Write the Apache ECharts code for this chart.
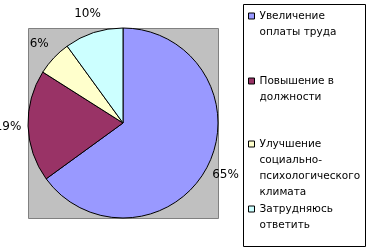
<!DOCTYPE html>
<html><head><meta charset="utf-8">
<script src="https://cdn.jsdelivr.net/npm/echarts@6/dist/echarts.min.js"></script>
<style>html,body{margin:0;padding:0;background:#fff}#c{width:377px;height:252px}</style>
</head><body><div id="c"></div>
<script>
const categories = ['Увеличение оплаты труда', 'Повышение в должности', 'Улучшение социально-психологического климата', 'Затрудняюсь ответить'];
const legendLines = [['Увеличение', 'оплаты труда'], ['Повышение в', 'должности'], ['Улучшение', 'социально-', 'психологического', 'климата'], ['Затрудняюсь', 'ответить']];
const values = [65, 19, 6, 10];
const colors = ['#9999FF', '#993366', '#FFFFCC', '#CCFFFF'];
const legendCenters = [16, 81, 144, 209];

const chart = echarts.init(document.getElementById('c'), null, {renderer: 'canvas'});
const font = 'DejaVu Sans';
const lh = 16;

const legends = categories.map((name, i) => {
  const n = legendLines[i].length;
  return {
    data: [name],
    orient: 'vertical',
    left: 248,
    top: legendCenters[i] - lh * n + lh / 2,
    padding: 0,
    itemWidth: 6,
    itemHeight: 6,
    icon: 'rect',
    selectedMode: false,
    itemStyle: {borderColor: '#000', borderWidth: 1},
    textStyle: {fontFamily: font, fontSize: 10.5, color: '#000', lineHeight: lh},
    formatter: () => '\n'.repeat(n - 1) + legendLines[i].join('\n')
  };
});

const data = categories.map((name, i) => ({name, value: values[i], itemStyle: {color: colors[i]}}));

chart.setOption({
  animation: false,
  color: colors,
  graphic: [
    {type: 'rect', z: -10, shape: {x: 28.5, y: 28.5, width: 190, height: 190}, style: {fill: '#C0C0C0', stroke: '#808080', lineWidth: 1}, silent: true},
    {type: 'rect', z: -10, shape: {x: 243.5, y: 4.5, width: 122, height: 242}, style: {fill: '#fff', stroke: '#000', lineWidth: 1}, silent: true}
  ],
  legend: legends,
  series: [
    {
      type: 'pie',
      center: [123, 123],
      radius: 95,
      startAngle: 90,
      clockwise: true,
      silent: true,
      emphasis: {disabled: true},
      itemStyle: {borderColor: '#000', borderWidth: 1},
      label: {show: false},
      labelLine: {show: false},
      data: data
    },
    {
      type: 'pie',
      center: [123, 123],
      radius: [100, 124],
      startAngle: 90,
      clockwise: true,
      silent: true,
      emphasis: {disabled: true},
      itemStyle: {color: 'rgba(0,0,0,0)', borderWidth: 0},
      label: {show: true, position: 'inside', formatter: '{c}%', fontFamily: font, fontSize: 12, color: '#000'},
      labelLine: {show: false},
      data: categories.map((name, i) => ({name, value: values[i]}))
    }
  ]
});
</script></body></html>
